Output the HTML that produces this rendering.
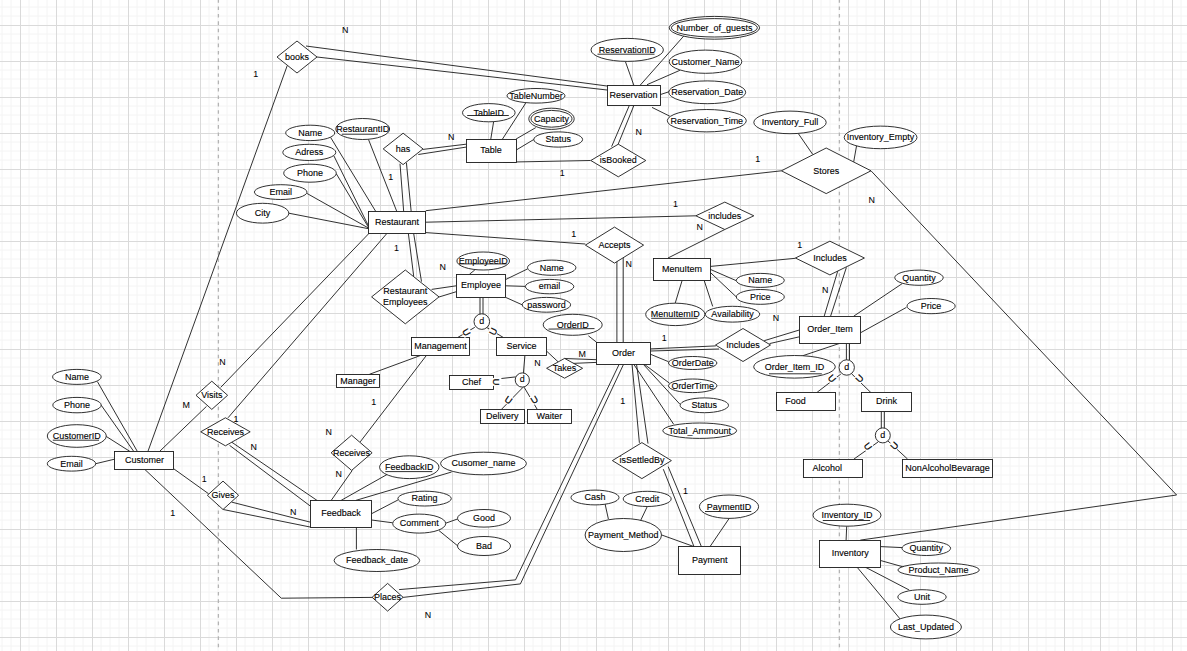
<!DOCTYPE html><html><head><meta charset="utf-8"><style>html,body{margin:0;padding:0;background:#fff;}body{width:1187px;height:651px;overflow:hidden;position:relative;}svg{position:absolute;left:0;top:0;}text{font-family:"Liberation Sans",sans-serif;}</style></head><body>
<svg width="1187" height="651" viewBox="0 0 1187 651" shape-rendering="crispEdges">
<path d="M2 0V651M11 0V651M29 0V651M38 0V651M47 0V651M65 0V651M74 0V651M83 0V651M101 0V651M110 0V651M119 0V651M137 0V651M146 0V651M155 0V651M173 0V651M182 0V651M191 0V651M209 0V651M218 0V651M227 0V651M245 0V651M254 0V651M263 0V651M281 0V651M290 0V651M299 0V651M317 0V651M326 0V651M335 0V651M353 0V651M362 0V651M371 0V651M389 0V651M398 0V651M407 0V651M425 0V651M434 0V651M443 0V651M461 0V651M470 0V651M479 0V651M497 0V651M506 0V651M515 0V651M533 0V651M542 0V651M551 0V651M569 0V651M578 0V651M587 0V651M605 0V651M614 0V651M623 0V651M641 0V651M650 0V651M659 0V651M677 0V651M686 0V651M695 0V651M713 0V651M722 0V651M731 0V651M749 0V651M758 0V651M767 0V651M785 0V651M794 0V651M803 0V651M821 0V651M830 0V651M839 0V651M857 0V651M866 0V651M875 0V651M893 0V651M902 0V651M911 0V651M929 0V651M938 0V651M947 0V651M965 0V651M974 0V651M983 0V651M1001 0V651M1010 0V651M1019 0V651M1037 0V651M1046 0V651M1055 0V651M1073 0V651M1082 0V651M1091 0V651M1109 0V651M1118 0V651M1127 0V651M1145 0V651M1154 0V651M1163 0V651M1181 0V651M0 7H1187M0 16H1187M0 34H1187M0 43H1187M0 52H1187M0 70H1187M0 79H1187M0 88H1187M0 106H1187M0 115H1187M0 124H1187M0 142H1187M0 151H1187M0 160H1187M0 178H1187M0 187H1187M0 196H1187M0 214H1187M0 223H1187M0 232H1187M0 250H1187M0 259H1187M0 268H1187M0 286H1187M0 295H1187M0 304H1187M0 322H1187M0 331H1187M0 340H1187M0 358H1187M0 367H1187M0 376H1187M0 394H1187M0 403H1187M0 412H1187M0 430H1187M0 439H1187M0 448H1187M0 466H1187M0 475H1187M0 484H1187M0 502H1187M0 511H1187M0 520H1187M0 538H1187M0 547H1187M0 556H1187M0 574H1187M0 583H1187M0 592H1187M0 610H1187M0 619H1187M0 628H1187M0 646H1187" stroke="#f4f4f4" stroke-width="1" fill="none" shape-rendering="auto"/>
<path d="M20.5 0V651M56.5 0V651M92.5 0V651M128.5 0V651M164.5 0V651M200.5 0V651M236.5 0V651M272.5 0V651M308.5 0V651M344.5 0V651M380.5 0V651M416.5 0V651M452.5 0V651M488.5 0V651M524.5 0V651M560.5 0V651M596.5 0V651M632.5 0V651M668.5 0V651M704.5 0V651M740.5 0V651M776.5 0V651M812.5 0V651M848.5 0V651M884.5 0V651M920.5 0V651M956.5 0V651M992.5 0V651M1028.5 0V651M1064.5 0V651M1100.5 0V651M1136.5 0V651M1172.5 0V651M0 25.5H1187M0 61.5H1187M0 97.5H1187M0 133.5H1187M0 169.5H1187M0 205.5H1187M0 241.5H1187M0 277.5H1187M0 313.5H1187M0 349.5H1187M0 385.5H1187M0 421.5H1187M0 457.5H1187M0 493.5H1187M0 529.5H1187M0 565.5H1187M0 601.5H1187M0 637.5H1187" stroke="#dadada" stroke-width="1" fill="none"/>
<path d="M218.4 0V651M839.4 0V651" shape-rendering="auto" stroke="#b4b4b4" stroke-width="1.3" stroke-dasharray="3.6 3.81" stroke-dashoffset="0.91" fill="none"/>
</svg>
<svg width="1187" height="651" viewBox="0 0 1187 651">
<g stroke="#1a1a1a" stroke-width="0.9" fill="none">
<polyline points="625.5,61.9 633.9,85.4"/>
<polyline points="683.7,36.1 640,85.4"/>
<polyline points="679.9,70.3 647,84.7"/>
<polyline points="669.8,91.5 659.6,94.8"/>
<polyline points="669.8,116.2 652,107.4"/>
<polyline points="493.6,121.8 490.8,139"/>
<polyline points="525.7,103.1 502.5,139"/>
<polyline points="535.8,127.6 516.1,139"/>
<polyline points="534.6,139 515.6,150.4"/>
<polyline points="503.2,162.2 590.6,160.5"/>
<polyline points="330.6,137.4 375.9,211.7"/>
<polyline points="368.5,139.5 396.9,211.7"/>
<polyline points="798.4,133.7 812.7,154.4"/>
<polyline points="856.7,145 853.7,161.9"/>
<polyline points="425.8,210.7 781.4,170.8"/>
<polyline points="425.8,222.2 695.8,215.8"/>
<polyline points="425.8,232.6 585.3,244"/>
<polyline points="724.8,229.5 668,258"/>
<polyline points="710.6,266.4 795.4,258.3"/>
<polyline points="682.1,280.5 675.2,303.2"/>
<polyline points="704.2,280.5 712.7,306.4"/>
<polyline points="710.6,269.5 736.3,280.7"/>
<polyline points="710.6,272.7 736.3,296.9"/>
<polyline points="474.8,270 469.5,274.2"/>
<polyline points="505.7,279.5 527.4,269"/>
<polyline points="505.7,285.8 525.3,286.4"/>
<polyline points="505.7,297.4 522.2,304.8"/>
<polyline points="431.6,289.4 456.3,285.8"/>
<polyline points="439,297 456.3,291.7"/>
<polyline points="474.8,327.3 458,337.3"/>
<polyline points="486.4,327.3 503.2,337.4"/>
<polyline points="369.4,374.3 421,355.3"/>
<polyline points="426.5,355.3 360.2,441.9"/>
<polyline points="546.9,351.4 558.3,362"/>
<polyline points="564.4,358.5 596.4,359.7"/>
<polyline points="570.4,363.5 596.4,362.4"/>
<polyline points="524.9,355.6 523.4,373.4"/>
<polyline points="515.7,376.9 493.4,379.4"/>
<polyline points="523,387.3 501.5,409.3"/>
<polyline points="524.2,387.3 537.2,409.3"/>
<polyline points="588.4,335.8 596.4,342.1"/>
<polyline points="650.6,354.3 668.5,361.7"/>
<polyline points="644.2,364.2 669.5,383.2"/>
<polyline points="643.2,364.2 680,404.3"/>
<polyline points="633.7,364.2 673.7,424.3"/>
<polyline points="853.7,316.2 902.2,283.6"/>
<polyline points="860.7,332.7 906.4,307.4"/>
<polyline points="839,343.6 801,356.3"/>
<polyline points="840.8,374.1 817.1,392.3"/>
<polyline points="851.5,373.7 871,392.7"/>
<polyline points="878,442 853.9,459.1"/>
<polyline points="888,441 907.6,459.1"/>
<polyline points="97.4,381.6 137.4,451.5"/>
<polyline points="101.2,405.2 133.8,451.5"/>
<polyline points="106.2,436.4 130,451.5"/>
<polyline points="95.7,463.7 114.9,459.1"/>
<polyline points="147.9,451.5 287.2,65.7"/>
<polyline points="159.5,451.5 206.5,406.4"/>
<polyline points="220.7,387.4 368.7,233.7"/>
<polyline points="228,417.8 386.7,233.7"/>
<polyline points="173.9,468.9 208.5,493.7"/>
<polyline points="144.9,469.5 281.3,598.2 372.1,597.4"/>
<polyline points="352.2,470.5 331.2,500.4"/>
<polyline points="387.4,474.3 341.1,500.4"/>
<polyline points="451.6,472 355.8,500.4"/>
<polyline points="397.9,500 371.6,513.7"/>
<polyline points="392.7,522.8 371.6,520"/>
<polyline points="445.7,523.2 457.5,519"/>
<polyline points="439,530.6 457.5,545.7"/>
<polyline points="356.4,527 356.4,549.5"/>
<polyline points="605,503.6 608.4,519.1"/>
<polyline points="647.3,506.5 639.9,522"/>
<polyline points="662,535.1 694,546.6"/>
<polyline points="729.2,518.4 710,546.6"/>
<polyline points="846.7,526.4 846.1,540.1"/>
<polyline points="880.9,546.6 902,547.6"/>
<polyline points="880.9,560.6 904.3,567.2"/>
<polyline points="865.2,567.1 909.2,590"/>
<polyline points="857,567.1 900.4,619.3"/>
<polyline points="871,170.8 1176.6,495 860.3,540.1"/>
<polyline points="333.8,155.7 368,225"/>
<polyline points="336.1,173.4 368.4,227.2"/>
<polyline points="306.9,193.4 368.4,228"/>
<polyline points="288.8,213.2 368.4,228.7"/>
<polyline points="306,46 607,86"/>
<polyline points="317,57 607,90"/>
<polyline points="400,163.7 403.7,211.7"/>
<polyline points="406.4,162.7 411.2,211.7"/>
<polyline points="423,149.4 466.1,144.2"/>
<polyline points="418.3,154.5 466.1,147.1"/>
<polyline points="611.6,146.6 629.3,105.5"/>
<polyline points="618,144.6 633.9,105.5"/>
<polyline points="616.9,259.5 616.9,342.1"/>
<polyline points="623.2,255.5 623.2,342.1"/>
<polyline points="837.9,270.5 824.2,316.2"/>
<polyline points="846.4,267.4 830.6,316.2"/>
<polyline points="650.6,348.9 715.8,345.9"/>
<polyline points="650.6,351 719,349"/>
<polyline points="764.2,340.7 799,330.1"/>
<polyline points="769.5,343.6 799,336.9"/>
<polyline points="408.4,233.7 413.7,276.3"/>
<polyline points="413.7,233.7 421.5,281.6"/>
<polyline points="480,297.4 480,314"/>
<polyline points="483,297.4 483,314"/>
<polyline points="846.4,343.6 846.4,360"/>
<polyline points="849.5,343.6 849.5,360"/>
<polyline points="881.3,411.3 881.3,428"/>
<polyline points="884.3,411.3 884.3,428"/>
<polyline points="231.6,442.1 317,500.4"/>
<polyline points="229.5,445.3 310.1,505.9"/>
<polyline points="231.6,502.1 310.1,522.1"/>
<polyline points="223.2,509.5 310.1,527"/>
<polyline points="399.1,589.6 515.5,579.9 619.2,364.2"/>
<polyline points="403.1,597.4 520.4,583.9 623.6,364.2"/>
<polyline points="632,364.2 639.4,442.8"/>
<polyline points="636.5,364.2 648,443.6"/>
<polyline points="663.3,469.2 694,546.6"/>
<polyline points="668.2,466.7 701.4,546.6"/>
</g>
<g stroke="#1a1a1a" stroke-width="0.9" fill="#fff">
<rect x="607.5" y="85.5" width="53" height="20"/>
<rect x="466.5" y="139.5" width="50" height="23"/>
<rect x="368.5" y="211.5" width="57" height="22"/>
<rect x="653.5" y="258.5" width="57" height="22"/>
<rect x="456.5" y="274.5" width="49" height="23"/>
<rect x="411.5" y="337.5" width="58" height="18"/>
<rect x="496.5" y="337.5" width="50" height="18"/>
<rect x="336.5" y="374.5" width="43" height="13"/>
<rect x="449.5" y="375.5" width="44" height="14"/>
<rect x="480.5" y="409.5" width="44" height="14"/>
<rect x="527.5" y="409.5" width="44" height="14"/>
<rect x="596.5" y="342.5" width="54" height="22"/>
<rect x="799.5" y="316.5" width="61" height="27"/>
<rect x="776.5" y="392.5" width="59" height="18"/>
<rect x="861.5" y="392.5" width="50" height="19"/>
<rect x="803.5" y="459.5" width="59" height="18"/>
<rect x="902.5" y="459.5" width="90" height="18"/>
<rect x="114.5" y="451.5" width="59" height="18"/>
<rect x="310.5" y="500.5" width="61" height="27"/>
<rect x="678.5" y="546.5" width="62" height="28"/>
<rect x="819.5" y="540.5" width="61" height="27"/>
<polygon points="277,57 297,41 317,57 297,73"/>
<polygon points="383.2,148.9 403.1,133.2 423,148.9 403.1,164.6"/>
<polygon points="590.8,160.5 618.3,144.2 645.8,160.5 618.3,176.8"/>
<polygon points="781.4,170.8 826.2,148 871,170.8 826.2,193.6"/>
<polygon points="695.8,215.8 724.8,202.1 753.8,215.8 724.8,229.5"/>
<polygon points="585.4,245.1 614.5,227.1 643.6,245.1 614.5,263.1"/>
<polygon points="795.4,258 829.9,241.2 864.4,258 829.9,274.9"/>
<polygon points="371.6,296.9 405.3,270 439,296.9 405.3,323.8"/>
<polygon points="546.6,368.3 564.6,358.4 582.6,368.3 564.6,378.2"/>
<polygon points="715.5,345 743,328.5 770.5,345 743,361.5"/>
<polygon points="196,395.3 211.8,381.2 227.6,395.3 211.8,409.4"/>
<polygon points="200.7,431.8 225.4,417.8 250.2,431.8 225.4,445.8"/>
<polygon points="331.1,452.8 351.6,435.2 372.1,452.8 351.6,470.4"/>
<polygon points="207.4,495.3 223,481.1 238.6,495.3 223,509.5"/>
<polygon points="372.1,597.3 387.6,583.4 403.1,597.3 387.6,611.1"/>
<polygon points="612.4,460.6 641.9,442.6 671.4,460.6 641.9,478.6"/>
<ellipse cx="627.2" cy="49.9" rx="36.2" ry="11.5"/>
<ellipse cx="714.4" cy="27.8" rx="45.2" ry="11.4"/>
<ellipse cx="714.4" cy="27.8" rx="43" ry="9.2"/>
<ellipse cx="705.5" cy="61.7" rx="36.3" ry="11.6"/>
<ellipse cx="707.2" cy="92.3" rx="38.5" ry="11.4"/>
<ellipse cx="706.8" cy="120.7" rx="39.5" ry="11.2"/>
<ellipse cx="536" cy="95.8" rx="29" ry="7.3"/>
<ellipse cx="488.8" cy="112.7" rx="26.3" ry="9.1"/>
<ellipse cx="551.5" cy="118.8" rx="22.7" ry="10.6"/>
<ellipse cx="551.5" cy="118.8" rx="20.5" ry="8.4"/>
<ellipse cx="558.2" cy="139.5" rx="24.4" ry="7.6"/>
<ellipse cx="790" cy="122.4" rx="36.2" ry="11.3"/>
<ellipse cx="880.6" cy="137.4" rx="36.4" ry="11.3"/>
<ellipse cx="310.2" cy="132.9" rx="24.5" ry="7.7"/>
<ellipse cx="362.7" cy="129" rx="26.9" ry="10.5"/>
<ellipse cx="309.3" cy="152.4" rx="26.5" ry="8.1"/>
<ellipse cx="310" cy="173.2" rx="26.3" ry="9"/>
<ellipse cx="280.7" cy="192.1" rx="26.3" ry="7.4"/>
<ellipse cx="262.6" cy="213.2" rx="26.2" ry="9.9"/>
<ellipse cx="483.2" cy="261" rx="26.3" ry="9"/>
<ellipse cx="551.7" cy="267.7" rx="24.2" ry="7.6"/>
<ellipse cx="549.6" cy="286.6" rx="24.2" ry="7.2"/>
<ellipse cx="546.4" cy="304.8" rx="24.2" ry="7.4"/>
<ellipse cx="572.7" cy="324.8" rx="29.5" ry="10.5"/>
<ellipse cx="760.3" cy="280.4" rx="24" ry="7"/>
<ellipse cx="760.3" cy="296.9" rx="24" ry="7.4"/>
<ellipse cx="675.3" cy="314.4" rx="29.6" ry="11.2"/>
<ellipse cx="732.5" cy="314.2" rx="27.2" ry="7.9"/>
<ellipse cx="919" cy="277.7" rx="24.2" ry="7.6"/>
<ellipse cx="931.1" cy="306.1" rx="24.1" ry="7.6"/>
<ellipse cx="794.5" cy="366.8" rx="40.8" ry="11.3"/>
<ellipse cx="692.7" cy="363" rx="24.2" ry="6.5"/>
<ellipse cx="692.7" cy="385.8" rx="24.2" ry="6.8"/>
<ellipse cx="704.3" cy="405.3" rx="24.2" ry="7.4"/>
<ellipse cx="699.7" cy="430.7" rx="36.9" ry="7.7"/>
<ellipse cx="76.9" cy="376.9" rx="24.3" ry="7.5"/>
<ellipse cx="77" cy="405.1" rx="24.2" ry="7.7"/>
<ellipse cx="76.8" cy="436" rx="29.5" ry="11.3"/>
<ellipse cx="71.5" cy="463.7" rx="24.2" ry="7.4"/>
<ellipse cx="409.3" cy="467.2" rx="29.7" ry="11.4"/>
<ellipse cx="483.5" cy="463.5" rx="42.9" ry="11.3"/>
<ellipse cx="424.6" cy="498.6" rx="26.7" ry="7.4"/>
<ellipse cx="419.2" cy="523.6" rx="26.5" ry="9.5"/>
<ellipse cx="484" cy="518.3" rx="26.5" ry="8.8"/>
<ellipse cx="484" cy="546" rx="26.5" ry="9.5"/>
<ellipse cx="376.9" cy="560.5" rx="42.8" ry="11"/>
<ellipse cx="595" cy="497.5" rx="24" ry="7.4"/>
<ellipse cx="647.2" cy="498.9" rx="24" ry="7.6"/>
<ellipse cx="623.3" cy="535" rx="38.2" ry="16.5"/>
<ellipse cx="729" cy="506.7" rx="29.6" ry="11.7"/>
<ellipse cx="847" cy="515.2" rx="34" ry="11"/>
<ellipse cx="926.3" cy="548.3" rx="24.3" ry="7.2"/>
<ellipse cx="938.6" cy="570" rx="40.7" ry="7"/>
<ellipse cx="922" cy="597" rx="24.2" ry="7.3"/>
<ellipse cx="925.9" cy="627" rx="35.5" ry="11.9"/>
<circle cx="481.8" cy="321.6" r="7.8"/>
<circle cx="522.3" cy="380" r="7.1"/>
<circle cx="846.7" cy="367.5" r="7.7"/>
<circle cx="882.8" cy="435.4" r="7.5"/>
</g>
<g fill="#000" stroke="#000" stroke-width="0.12" font-size="9" text-anchor="middle">
<text transform="translate(633.5,97.9) scale(1,1.1)">Reservation</text>
<text transform="translate(491,153.4) scale(1,1.1)">Table</text>
<text transform="translate(397.1,225.1) scale(1,1.1)">Restaurant</text>
<text transform="translate(681.9,271.6) scale(1,1.1)">MenuItem</text>
<text transform="translate(481,288.2) scale(1,1.1)">Employee</text>
<text transform="translate(440.4,348.7) scale(1,1.1)">Management</text>
<text transform="translate(521.5,348.9) scale(1,1.1)">Service</text>
<text transform="translate(358.1,383.5) scale(1,1.1)">Manager</text>
<text transform="translate(471.5,385) scale(1,1.1)">Chef</text>
<text transform="translate(502.2,418.7) scale(1,1.1)">Delivery</text>
<text transform="translate(549.4,418.7) scale(1,1.1)">Waiter</text>
<text transform="translate(623.5,355.6) scale(1,1.1)">Order</text>
<text transform="translate(829.9,332.3) scale(1,1.1)">Order_Item</text>
<text transform="translate(795.4,403.7) scale(1,1.1)">Food</text>
<text transform="translate(886.6,404.4) scale(1,1.1)">Drink</text>
<text transform="translate(827.2,470.5) scale(1,1.1)">Alcohol</text>
<text transform="translate(947.4,470.5) scale(1,1.1)">NonAlcoholBevarage</text>
<text transform="translate(144.4,462.9) scale(1,1.1)">Customer</text>
<text transform="translate(340.9,516.1) scale(1,1.1)">Feedback</text>
<text transform="translate(709.8,562.8) scale(1,1.1)">Payment</text>
<text transform="translate(850.2,556) scale(1,1.1)">Inventory</text>
<text transform="translate(297,59.8) scale(1,1.1)">books</text>
<text transform="translate(403.1,151.7) scale(1,1.1)">has</text>
<text transform="translate(618.3,163.3) scale(1,1.1)">isBooked</text>
<text transform="translate(826.2,173.6) scale(1,1.1)">Stores</text>
<text transform="translate(724.8,218.6) scale(1,1.1)">includes</text>
<text transform="translate(614.5,247.9) scale(1,1.1)">Accepts</text>
<text transform="translate(829.9,260.8) scale(1,1.1)">Includes</text>
<text transform="translate(405.3,294.2) scale(1,1.1)">Restaurant</text>
<text transform="translate(405.3,305.2) scale(1,1.1)">Employees</text>
<text transform="translate(564.6,371.1) scale(1,1.1)">Takes</text>
<text transform="translate(743,347.8) scale(1,1.1)">Includes</text>
<text transform="translate(211.8,398.1) scale(1,1.1)">Visits</text>
<text transform="translate(225.4,434.6) scale(1,1.1)">Receives</text>
<text transform="translate(351.6,455.6) scale(1,1.1)">Receives</text>
<text transform="translate(223,498.1) scale(1,1.1)">Gives</text>
<text transform="translate(387.6,600.1) scale(1,1.1)">Places</text>
<text transform="translate(641.9,463.4) scale(1,1.1)">isSettledBy</text>
<text transform="translate(627.2,52.7) scale(1,1.1)">ReservationID</text>
<text transform="translate(714.4,30.6) scale(1,1.1)">Number_of_guests</text>
<text transform="translate(705.5,64.5) scale(1,1.1)">Customer_Name</text>
<text transform="translate(707.2,95.1) scale(1,1.1)">Reservation_Date</text>
<text transform="translate(706.8,123.5) scale(1,1.1)">Reservation_Time</text>
<text transform="translate(536,98.6) scale(1,1.1)">TableNumber</text>
<text transform="translate(488.8,115.5) scale(1,1.1)">TableID</text>
<text transform="translate(551.5,121.6) scale(1,1.1)">Capacity</text>
<text transform="translate(558.2,142.3) scale(1,1.1)">Status</text>
<text transform="translate(790,125.2) scale(1,1.1)">Inventory_Full</text>
<text transform="translate(880.6,140.2) scale(1,1.1)">Inventory_Empty</text>
<text transform="translate(310.2,135.7) scale(1,1.1)">Name</text>
<text transform="translate(362.7,131.8) scale(1,1.1)">RestaurantID</text>
<text transform="translate(309.3,155.2) scale(1,1.1)">Adress</text>
<text transform="translate(310,176) scale(1,1.1)">Phone</text>
<text transform="translate(280.7,194.9) scale(1,1.1)">Email</text>
<text transform="translate(262.6,216) scale(1,1.1)">City</text>
<text transform="translate(483.2,263.8) scale(1,1.1)">EmployeeID</text>
<text transform="translate(551.7,270.5) scale(1,1.1)">Name</text>
<text transform="translate(549.6,289.4) scale(1,1.1)">email</text>
<text transform="translate(546.4,307.6) scale(1,1.1)">password</text>
<text transform="translate(572.7,327.6) scale(1,1.1)">OrderID</text>
<text transform="translate(760.3,283.2) scale(1,1.1)">Name</text>
<text transform="translate(760.3,299.7) scale(1,1.1)">Price</text>
<text transform="translate(675.3,317.2) scale(1,1.1)">MenuItemID</text>
<text transform="translate(732.5,317) scale(1,1.1)">Availability</text>
<text transform="translate(919,280.5) scale(1,1.1)">Quantity</text>
<text transform="translate(931.1,308.9) scale(1,1.1)">Price</text>
<text transform="translate(794.5,369.6) scale(1,1.1)">Order_Item_ID</text>
<text transform="translate(692.7,365.8) scale(1,1.1)">OrderDate</text>
<text transform="translate(692.7,388.6) scale(1,1.1)">OrderTime</text>
<text transform="translate(704.3,408.1) scale(1,1.1)">Status</text>
<text transform="translate(699.7,433.5) scale(1,1.1)">Total_Ammount</text>
<text transform="translate(76.9,379.7) scale(1,1.1)">Name</text>
<text transform="translate(77,407.9) scale(1,1.1)">Phone</text>
<text transform="translate(76.8,438.8) scale(1,1.1)">CustomerID</text>
<text transform="translate(71.5,466.5) scale(1,1.1)">Email</text>
<text transform="translate(409.3,470) scale(1,1.1)">FeedbackID</text>
<text transform="translate(483.5,466.3) scale(1,1.1)">Cusomer_name</text>
<text transform="translate(424.6,501.4) scale(1,1.1)">Rating</text>
<text transform="translate(419.2,526.4) scale(1,1.1)">Comment</text>
<text transform="translate(484,521.1) scale(1,1.1)">Good</text>
<text transform="translate(484,548.8) scale(1,1.1)">Bad</text>
<text transform="translate(376.9,563.3) scale(1,1.1)">Feedback_date</text>
<text transform="translate(595,500.3) scale(1,1.1)">Cash</text>
<text transform="translate(647.2,501.7) scale(1,1.1)">Credit</text>
<text transform="translate(623.3,537.8) scale(1,1.1)">Payment_Method</text>
<text transform="translate(729,509.5) scale(1,1.1)">PaymentID</text>
<text transform="translate(847,518) scale(1,1.1)">Inventory_ID</text>
<text transform="translate(926.3,551.1) scale(1,1.1)">Quantity</text>
<text transform="translate(938.6,572.8) scale(1,1.1)">Product_Name</text>
<text transform="translate(922,599.8) scale(1,1.1)">Unit</text>
<text transform="translate(925.9,629.8) scale(1,1.1)">Last_Updated</text>
<text transform="translate(481.8,323.9) scale(1,1.1)">d</text>
<text transform="translate(522.3,382.3) scale(1,1.1)">d</text>
<text transform="translate(846.7,369.8) scale(1,1.1)">d</text>
<text transform="translate(882.8,437.7) scale(1,1.1)">d</text>
</g>
<g fill="#000" stroke="#000" stroke-width="0.05" font-size="8.9" text-anchor="middle">
<text transform="translate(345.3,33.2) scale(1,1.1)">N</text>
<text transform="translate(255.6,77.2) scale(1,1.1)">1</text>
<text transform="translate(451.2,140.2) scale(1,1.1)">N</text>
<text transform="translate(390.6,180.4) scale(1,1.1)">1</text>
<text transform="translate(638.7,134.8) scale(1,1.1)">N</text>
<text transform="translate(562.2,176.2) scale(1,1.1)">1</text>
<text transform="translate(757.7,161.6) scale(1,1.1)">1</text>
<text transform="translate(871.8,203) scale(1,1.1)">N</text>
<text transform="translate(675.4,207) scale(1,1.1)">1</text>
<text transform="translate(699.6,230.2) scale(1,1.1)">N</text>
<text transform="translate(573.7,236.6) scale(1,1.1)">1</text>
<text transform="translate(628.8,267.2) scale(1,1.1)">N</text>
<text transform="translate(799.7,247.6) scale(1,1.1)">1</text>
<text transform="translate(825.3,292.5) scale(1,1.1)">N</text>
<text transform="translate(442.8,270.3) scale(1,1.1)">N</text>
<text transform="translate(396.4,251.3) scale(1,1.1)">1</text>
<text transform="translate(582.3,356.9) scale(1,1.1)">M</text>
<text transform="translate(537.5,366.1) scale(1,1.1)">N</text>
<text transform="translate(664.3,340.9) scale(1,1.1)">1</text>
<text transform="translate(775.9,321.3) scale(1,1.1)">N</text>
<text transform="translate(622.8,404.1) scale(1,1.1)">1</text>
<text transform="translate(685.4,494.2) scale(1,1.1)">1</text>
<text transform="translate(222.5,365) scale(1,1.1)">N</text>
<text transform="translate(186.3,408.2) scale(1,1.1)">M</text>
<text transform="translate(236,421.9) scale(1,1.1)">1</text>
<text transform="translate(253.8,450) scale(1,1.1)">N</text>
<text transform="translate(204.2,482) scale(1,1.1)">1</text>
<text transform="translate(172.7,515.6) scale(1,1.1)">1</text>
<text transform="translate(293.3,515) scale(1,1.1)">N</text>
<text transform="translate(328.7,434.9) scale(1,1.1)">N</text>
<text transform="translate(338.6,477.1) scale(1,1.1)">N</text>
<text transform="translate(373.8,405.1) scale(1,1.1)">1</text>
<text transform="translate(427.9,617.8) scale(1,1.1)">N</text>
</g>
<g stroke="#1a1a1a" stroke-width="0.9" fill="none">
<polyline points="597.5,54.2 654.5,54.2"/>
<polyline points="467.2,115.5 508.8,115.5"/>
<polyline points="341.8,134.2 377.8,134.2"/>
<polyline points="458.8,263.9 506.6,263.9"/>
<polyline points="548.5,329.1 594.5,328.6"/>
<polyline points="651.2,318.3 697.5,318.3"/>
<polyline points="769,373.8 821.8,373.8"/>
<polyline points="52.8,440.2 99,440.2"/>
<polyline points="385.3,471.6 432.3,471.6"/>
<polyline points="705,511.5 751.3,511.5"/>
<polyline points="822.8,520.5 870.1,520.5"/>
</g>
<g transform="translate(466.5,332.3) rotate(59)"><rect x="-4" y="-4.5" width="8" height="9" fill="#fff"/><text x="0" y="3.4" font-size="9.5" text-anchor="middle" fill="#000" stroke="#000" stroke-width="0.2">U</text></g>
<g transform="translate(493.1,331.5) rotate(-64.5)"><rect x="-4" y="-4.5" width="8" height="9" fill="#fff"/><text x="0" y="3.4" font-size="9.5" text-anchor="middle" fill="#000" stroke="#000" stroke-width="0.2">U</text></g>
<g transform="translate(496.9,381.9) rotate(90)"><rect x="-4" y="-4.5" width="8" height="9" fill="#fff"/><text x="0" y="3.4" font-size="9.5" text-anchor="middle" fill="#000" stroke="#000" stroke-width="0.2">U</text></g>
<g transform="translate(508.4,399.9) rotate(35)"><rect x="-4" y="-4.5" width="8" height="9" fill="#fff"/><text x="0" y="3.4" font-size="9.5" text-anchor="middle" fill="#000" stroke="#000" stroke-width="0.2">U</text></g>
<g transform="translate(534.2,399.6) rotate(-30)"><rect x="-4" y="-4.5" width="8" height="9" fill="#fff"/><text x="0" y="3.4" font-size="9.5" text-anchor="middle" fill="#000" stroke="#000" stroke-width="0.2">U</text></g>
<g transform="translate(832,378.5) rotate(50)"><rect x="-4" y="-4.5" width="8" height="9" fill="#fff"/><text x="0" y="3.4" font-size="9.5" text-anchor="middle" fill="#000" stroke="#000" stroke-width="0.2">U</text></g>
<g transform="translate(859.4,378.5) rotate(-46)"><rect x="-4" y="-4.5" width="8" height="9" fill="#fff"/><text x="0" y="3.4" font-size="9.5" text-anchor="middle" fill="#000" stroke="#000" stroke-width="0.2">U</text></g>
<g transform="translate(868.1,446.4) rotate(54.6)"><rect x="-4" y="-4.5" width="8" height="9" fill="#fff"/><text x="0" y="3.4" font-size="9.5" text-anchor="middle" fill="#000" stroke="#000" stroke-width="0.2">U</text></g>
<g transform="translate(894.4,445.7) rotate(-47.3)"><rect x="-4" y="-4.5" width="8" height="9" fill="#fff"/><text x="0" y="3.4" font-size="9.5" text-anchor="middle" fill="#000" stroke="#000" stroke-width="0.2">U</text></g>
</svg>
</body></html>
